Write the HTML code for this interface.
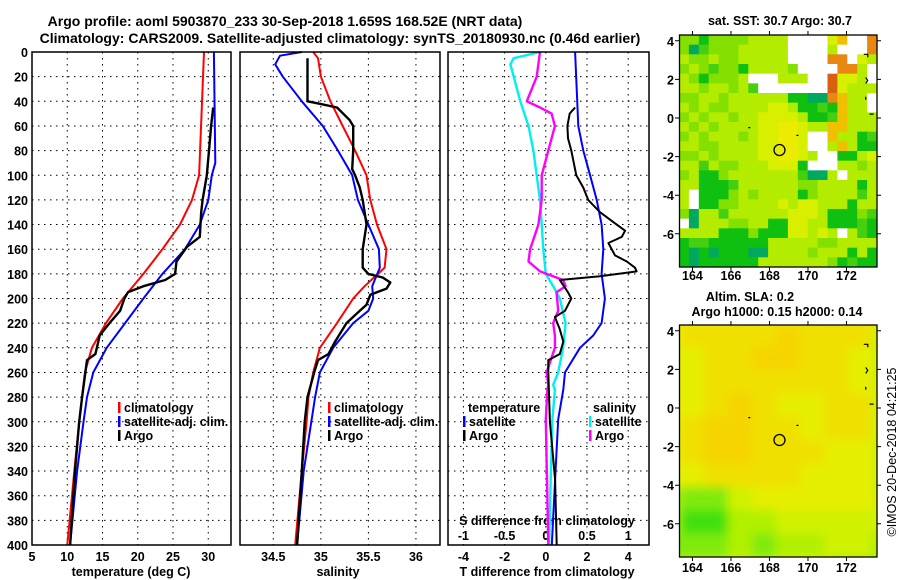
<!DOCTYPE html>
<html><head><meta charset="utf-8"><style>
html,body{margin:0;padding:0;background:#fff;}
svg{display:block;font-family:"Liberation Sans",Arial,sans-serif;}
.t{font-weight:bold;font-size:12.5px;fill:#000;}
.h{font-weight:bold;font-size:14px;fill:#000;}
</style></head><body>
<svg id="fig" width="900" height="580" viewBox="0 0 900 580" xmlns="http://www.w3.org/2000/svg">
<rect width="900" height="580" fill="#fff"/>
<text class="h" x="285" y="26" text-anchor="middle">Argo profile: aoml 5903870_233 30-Sep-2018 1.659S 168.52E (NRT data)</text>
<text class="h" x="340" y="43" text-anchor="middle">Climatology: CARS2009. Satellite-adjusted climatology: synTS_20180930.nc (0.46d earlier)</text>
<text class="h" x="780" y="25" text-anchor="middle" style="font-size:12.5px">sat. SST: 30.7 Argo: 30.7</text>
<text class="h" x="750" y="301" text-anchor="middle" style="font-size:12.5px">Altim. SLA: 0.2</text>
<text class="h" x="777" y="316" text-anchor="middle" style="font-size:12.5px">Argo h1000: 0.15 h2000: 0.14</text>
<text x="896" y="452" text-anchor="middle" transform="rotate(-90 896 452)" style="font-size:12.5px">©IMOS 20-Dec-2018 04:21:25</text>
<defs><filter id="bl" x="0" y="0" width="1" height="1"><feGaussianBlur stdDeviation="5"/></filter>
<clipPath id="c1"><rect x="679" y="35" width="198" height="232"/></clipPath>
<clipPath id="c2"><rect x="680" y="325" width="197" height="232"/></clipPath></defs>
<g id="layer"></g>
</svg>
<script>
// depth arrays + values
const tClimD = [0,100,120,140,160,180,200,220,240,260,280,300,340,400];
const tClimV = [29.4,28.7,27.7,26.0,23.5,20.8,17.9,15.5,13.5,12.5,12.1,11.7,11.0,10.0];
const tSatD = [0,90,100,120,140,160,180,200,220,240,260,280,300,340,400];
const tSatV = [30.8,31.0,30.5,30.0,28.8,26.7,23.5,20.8,18.2,15.6,13.7,12.8,12.3,11.4,10.4];
const tArgoD = [45,60,80,100,120,130,150,158,170,180,185,190,195,200,210,220,230,245,250,280,300,340,400];
const tArgoV = [30.7,30.4,30.1,29.8,29.2,29.0,28.8,27.0,25.5,25.3,23.9,20.8,18.6,18.1,17.5,16.0,14.6,14.0,12.8,12.1,11.7,11.1,10.4];
const sClimD = [0,5,20,40,60,80,100,120,140,160,175,180,190,200,220,240,260,280,300,340,400];
const sClimV = [34.92,34.97,35.0,35.1,35.23,35.36,35.48,35.52,35.59,35.69,35.67,35.6,35.46,35.34,35.17,34.99,34.92,34.87,34.85,34.8,34.73];
const sSatD = [0,3,10,20,40,60,80,100,120,140,160,175,190,200,210,220,240,260,280,300,340,400];
const sSatV = [34.8,34.57,34.52,34.6,34.8,35.02,35.18,35.33,35.39,35.5,35.61,35.62,35.54,35.55,35.5,35.34,35.13,34.99,34.94,34.9,34.82,34.75];
const sArgoD = [5,40,42,45,55,60,80,95,100,110,120,140,160,175,180,183,187,192,197,205,210,220,235,245,250,260,280,300,340,400];
const sArgoV = [34.86,34.86,34.99,35.17,35.3,35.34,35.34,35.33,35.36,35.41,35.44,35.48,35.44,35.44,35.5,35.65,35.73,35.69,35.52,35.48,35.41,35.27,35.15,35.08,34.97,34.93,34.86,34.83,34.8,34.75];
const dtSatD = [0,60,80,100,120,140,160,180,200,220,230,240,260,274,298,347,400];
const dtSatV = [1.42,1.58,1.82,2.15,2.47,2.71,2.79,2.71,2.87,2.71,2.3,1.66,0.93,0.85,0.6,0.45,0.29];
const dtArgoD = [45,50,60,70,80,100,110,120,130,140,145,150,155,160,165,170,175,178,182,185,195,200,210,215,225,235,245,250,260,300,347,400];
const dtArgoV = [1.42,1.16,1.05,1.08,1.24,1.48,1.82,2.06,2.63,3.44,3.85,3.69,3.04,3.2,3.36,3.93,4.33,4.41,2.63,0.68,1.08,1.24,0.93,0.44,0.68,0.85,0.68,0.12,0.12,0.2,0.45,0.53];
const dsSatD = [0,5,10,40,60,80,100,120,140,160,180,190,200,220,240,260,270,274,298,347,400];
const dsSatV = [-0.07,-0.39,-0.43,-0.31,-0.21,-0.15,-0.11,-0.07,-0.05,-0.03,0,0.09,0.17,0.24,0.21,0.15,0.09,0.11,0.08,0.06,0.04];
const dsArgoD = [0,20,40,45,50,60,80,100,120,140,160,170,178,185,190,195,210,220,230,240,260,270,274,298,400];
const dsArgoV = [-0.07,-0.11,-0.23,-0.07,0.07,0.11,0.03,-0.05,-0.05,-0.09,-0.19,-0.21,-0.07,0.21,0.24,0.13,0.15,0.09,0.11,0.11,0.01,0.03,0.02,0,0.03];
const depthTicks = [0,20,40,60,80,100,120,140,160,180,200,220,240,260,280,300,320,340,360,380,400];
const tTicks = [5,10,15,20,25,30];
const sTicks = [34.5,35,35.5,36];
const dtTicks = [-4,-2,0,2,4];
const dsTicks = [-1,-0.5,0,0.5,1];
const dsTickLabels = ['-1','-0.5','0','0.5','1'];
const lonTicks = [164,166,168,170,172];
const latTicks = [4,2,0,-2,-4,-6];
const argoLon = 168.52, argoLat = -1.659;
const sstGrid = [
"33133334444wwww57ww8","30233344444wwww4www8","43343344444wwww88w54","343233144443wwww884w",
"4313334www444ww9554w","44344342wwwwwww95444","3344344444411008744w","4343344445541121744w",
"34344344555541127444","43434444556654477444","3434443455665ww74412","4433444455665ww47411",
"33434444556654ww1145","4424334445551www4434","3411344444442004w444","44111244444433444414",
"4w111343444413444424","4w113344445455444144","30442444444555411132","w0444334411554411121",
"4444111311155454w421","12211111144444334444","10101110044443444141","10111111444444431211"];
const sstColors = {'0':'#00a860','1':'#10c010','2':'#44d010','3':'#84e000','4':'#b4ec00','5':'#d8f000','6':'#ecec00','7':'#f0c000','8':'#e88810','9':'#d86010','w':'#ffffff'};
const slaGrid = ["3445445654","4555565553","4455665543","4455555543","4456544553","4566554553","4566555443","4455554443","2113444443","2002233333","1112122332","2223233222"];
const slaColors = ['#40e010','#80ea08','#b0f000','#d0f200','#e6ee00','#f0e000','#f6d400'];

const NS='http://www.w3.org/2000/svg';
const layer=document.getElementById('layer');
function el(tag,attrs,parent){const e=document.createElementNS(NS,tag);for(const k in attrs)e.setAttribute(k,attrs[k]);(parent||layer).appendChild(e);return e;}
function txt(s,x,y,anchor,cls,parent){const e=el('text',{x:x,y:y,'text-anchor':anchor||'start',class:cls||'t'},parent);e.textContent=s;return e;}

const yD=d=>52+d*493/400;
const xT=t=>32+(t-5)*7.05;
const xS=s=>273.3+(s-34.5)*95.1;
const xDT=t=>545.8+t*20.6;
const xDS=s=>xDT(s*4);
const lonX=l=>679+(l-163.3)*19.25;
const latY1=l=>118-l*19.3;
const latY2=l=>408-l*19.3;

const panels=[{x:32,w:199,name:'temperature-panel'},{x:240,w:200,name:'salinity-panel'},{x:448,w:201,name:'difference-panel'}];
depthTicks.forEach(d=>{panels.forEach(p=>{
 const g=el('line',{x1:p.x,x2:p.x+p.w,y1:yD(d),y2:yD(d),stroke:'#000','stroke-width':1,'stroke-dasharray':'1.5,4.5'});
 
 
});
 const l=txt(String(d),28,yD(d)+5,'end');
 
 
});
function vgrid(ticks,fx,labels,y,name){ticks.forEach((t,i)=>{
 const g=el('line',{x1:fx(t),x2:fx(t),y1:52,y2:545,stroke:'#000','stroke-width':1,'stroke-dasharray':'1.5,4.5'});
 
 
 if(labels){const l=txt(labels[i],fx(t),y,'middle');
 
 }
});}
vgrid(tTicks,xT,tTicks.map(String),561,'temperature');
vgrid(sTicks,xS,sTicks.map(String),561,'salinity');
vgrid(dtTicks,xDT,dtTicks.map(String),561,'t-difference');
dsTickLabels.forEach((s,i)=>{const l=txt(s,xDS(dsTicks[i]),540,'middle');
 
 });
const sdt=txt('S difference from climatology',547,525,'middle');


[['temperature (deg C)',131,'temperature-axis-title'],['salinity',338,'salinity-axis-title'],['T difference from climatology',547,'t-difference-axis-title']].forEach(a=>{
 const l=txt(a[0],a[1],576,'middle');
 
 });

function series(D,V,fx,color,name,w){
 const pts=D.map((d,i)=>fx(V[i]).toFixed(1)+','+yD(d).toFixed(1)).join(' ');
 const p=el('polyline',{points:pts,fill:'none',stroke:color,'stroke-width':w||2,'stroke-linejoin':'round'});
 
 
}
series(tClimD,tClimV,xT,'#ff0000','temperature-climatology-line');
series(tSatD,tSatV,xT,'#0000ff','temperature-satellite-line');
series(tArgoD,tArgoV,xT,'#000000','temperature-argo-line',2.4);
series(sClimD,sClimV,xS,'#ff0000','salinity-climatology-line');
series(sSatD,sSatV,xS,'#0000ff','salinity-satellite-line');
series(sArgoD,sArgoV,xS,'#000000','salinity-argo-line',2.4);
series(dsSatD,dsSatV,xDS,'#00f0f0','s-diff-satellite-line',2.4);
series(dsArgoD,dsArgoV,xDS,'#ff00ff','s-diff-argo-line',2.4);
series(dtSatD,dtSatV,xDT,'#0000ff','t-diff-satellite-line');
series(dtArgoD,dtArgoV,xDT,'#000000','t-diff-argo-line');

panels.forEach(p=>{const r=el('rect',{x:p.x,y:52,width:p.w,height:493,fill:'none',stroke:'#000','stroke-width':1.5});
 
 });

function legend(x,y,items,name){items.forEach((it,i)=>{
 const b=el('rect',{x:x,y:y+i*14-10,width:2.5,height:11,fill:it[1]});
 
 
 const l=txt(it[0],x+6,y+i*14,'start');
 
 });}
legend(118,412,[['climatology','#ff0000'],['satellite-adj. clim.','#0000ff'],['Argo','#000000']],'temperature-legend');
legend(328,412,[['climatology','#ff0000'],['satellite-adj. clim.','#0000ff'],['Argo','#000000']],'salinity-legend');
const lt=txt('temperature',468,412);


const ls=txt('salinity',593,412);


legend(463,426,[['satellite','#0000ff'],['Argo','#000000']],'diff-temperature-legend');
legend(589,426,[['satellite','#00f0f0'],['Argo','#ff00ff']],'diff-salinity-legend');

const g1=el('g',{'clip-path':'url(#c1)'});


const cw=198/20, ch=232/24;
sstGrid.forEach((row,r)=>{for(let c=0;c<row.length;c++){
 const cell=el('rect',{x:(679+c*cw).toFixed(2),y:(35+r*ch).toFixed(2),width:(cw+0.6).toFixed(2),height:(ch+0.6).toFixed(2),fill:sstColors[row[c]]},g1);
 
 
}});
const g2=el('g',{'clip-path':'url(#c2)'});


const bg=el('rect',{x:680,y:325,width:197,height:232,fill:'#e6ee00'},g2);


const gb=el('g',{filter:'url(#bl)'},g2);


const cw2=240/10, ch2=280/12;
slaGrid.forEach((row,r)=>{for(let c=0;c<row.length;c++){
 const cell=el('rect',{x:(656+c*cw2).toFixed(2),y:(300+r*ch2).toFixed(2),width:(cw2+0.5).toFixed(2),height:(ch2+0.5).toFixed(2),fill:slaColors[+row[c]]},gb);
 
 
}});
[[latY1,35,280,'sst'],[latY2,325,572,'sla']].forEach(m=>{
 const fy=m[0];
 const fr=el('rect',{x:679.5,y:m[1],width:197.5,height:232,fill:'none',stroke:'#000','stroke-width':1.3});
 
 
 lonTicks.forEach(l=>{
  const tk=el('path',{d:`M${lonX(l)},${m[1]}v-4M${lonX(l)},${m[1]+232}v4`,stroke:'#000','stroke-width':1});
  
  
  const lb=txt(String(l),lonX(l),m[2],'middle');
  
  });
 latTicks.forEach(l=>{
  const tk=el('path',{d:`M679,${fy(l)}h-4M877,${fy(l)}h4`,stroke:'#000','stroke-width':1});
  
  
  const lb=txt(String(l),674,fy(l)+5,'end');
  
  });
 const ci=el('circle',{cx:lonX(argoLon),cy:fy(argoLat),r:5.5,fill:'none',stroke:'#000','stroke-width':1.3});
 
 
 const land=el('path',{d:`M${lonX(172.9)},${fy(3.3)}h4v3M${lonX(173.0)},${fy(2.1)}l2,3l-2,3M${lonX(173.0)},${fy(1.1)}v3M${lonX(173.2)},${fy(0.2)}h4M${lonX(166.9)},${fy(-0.5)}h2M${lonX(169.4)},${fy(-0.9)}h2`,stroke:'#000','stroke-width':1.2,fill:'none'});
 
 
});
</script>
</body></html>
